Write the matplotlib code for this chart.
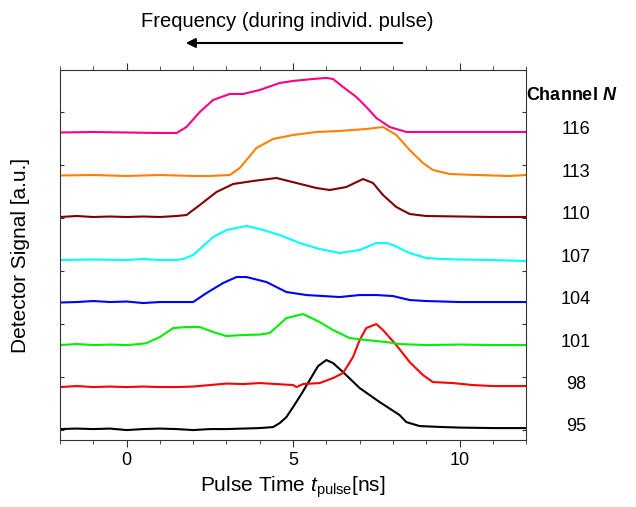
import matplotlib.pyplot as plt
import numpy as np
from matplotlib.ticker import MultipleLocator
from matplotlib.patches import FancyArrowPatch

plt.rcParams['font.family'] = ['Liberation Sans', 'DejaVu Sans']
plt.rcParams['mathtext.fontset'] = 'custom'
plt.rcParams['mathtext.rm'] = 'Liberation Sans'
plt.rcParams['mathtext.it'] = 'Liberation Sans:italic'
plt.rcParams['mathtext.bf'] = 'Liberation Sans:bold'
plt.rcParams['mathtext.bfit'] = 'Liberation Sans:italic:bold'

# pulse time [ns] and detector signal [a.u.] per channel (offset traces)
t95 = [-2, -1.5, -1, -0.5, 0, 0.5, 1, 1.5, 2, 2.5, 3, 3.5, 4, 4.4, 4.6, 4.8, 5.0, 5.25, 5.5,
       5.75, 6.0, 6.2, 6.5, 7.0, 7.6, 8.2, 8.4, 8.8, 9.5, 10, 11, 12]
s95 = [1, 1.5, 1, 1.5, 0, 1, 1.5, 1, 0, 1, 1, 1.5, 2, 3, 7, 13, 23, 36, 50,
       64, 70, 67, 58, 42, 28, 15, 8, 4, 3, 2.5, 2, 2]

t98 = [-2, -1.5, -1, -0.5, 0, 0.5, 1, 1.5, 2, 2.5, 3, 3.5, 4, 4.5, 5.0, 5.1, 5.3, 5.8, 6.2,
       6.5, 6.8, 7.0, 7.2, 7.5, 7.7, 8.1, 8.5, 8.9, 9.2, 9.8, 10.4, 11, 12]
s98 = [43, 44, 43, 43.5, 43, 43.5, 43, 43, 43.5, 45, 46.5, 46, 47, 46, 45, 43, 46, 47, 52,
       57, 73, 90, 102, 106, 100, 85, 68, 55, 48, 47, 45, 44, 44]

t101 = [-2, -1.5, -1, -0.5, 0, 0.4, 0.6, 1.0, 1.4, 1.8, 2.2, 2.6, 3.0, 3.5, 4.0, 4.3, 4.8,
        5.3, 5.8, 6.2, 6.7, 7.2, 7.8, 8.2, 9, 10, 11, 12]
s101 = [85, 86, 85, 85.5, 85, 86, 87, 93, 102, 103, 103, 98, 94, 95, 95.5, 97, 112,
        116, 108, 100, 92, 90, 88, 86, 85, 85.5, 85, 85]

t104 = [-2, -1.5, -1, -0.5, 0, 0.5, 1, 1.5, 2.0, 2.4, 2.9, 3.3, 3.6, 4.2, 4.8, 5.4, 6.4,
        7.0, 7.5, 8.0, 8.5, 9, 10, 11, 12]
s104 = [127.5, 128, 129, 128, 128.5, 127, 128, 128, 128, 137, 147, 153, 153, 148, 138, 135, 133,
        135, 135, 134, 130, 129, 128, 128, 128]

t107 = [-2, -1, 0, 0.5, 1, 1.5, 1.7, 2.0, 2.6, 3.0, 3.6, 4.0, 4.6, 5.2, 5.8, 6.4, 7.0,
        7.5, 7.8, 8.0, 8.5, 9.0, 9.5, 10, 11, 12]
s107 = [170, 170.5, 170, 171, 170, 170, 171, 175, 193, 200, 204, 201, 195, 187, 181, 177, 180,
        187, 187, 185, 177, 172, 171, 170.5, 170, 169]

t110 = [-2, -1.5, -1, -0.5, 0, 0.5, 1.0, 1.5, 1.8, 2.2, 2.7, 3.2, 3.8, 4.5, 5.1, 5.7, 6.1,
        6.6, 7.1, 7.4, 7.7, 8.1, 8.5, 9, 10, 11, 12]
s110 = [213, 214, 213, 213.5, 213, 213.5, 213, 214, 215, 225, 238, 246, 249, 252, 247, 242, 240,
        243, 251, 247, 235, 223, 216, 214, 213.5, 213, 213]

t113 = [-2, -1, 0, 1, 2, 2.5, 3.1, 3.4, 3.9, 4.4, 5.0, 5.7, 6.4, 7.2, 7.7, 8.1, 8.5, 8.9,
        9.2, 9.7, 10.5, 11.5, 12]
s113 = [254.5, 255, 254, 255, 254, 254, 255, 262, 282, 291, 295, 298, 299, 301, 303, 295, 280, 267,
        260, 256, 255, 254, 255]

t116 = [-2, -1, 0, 1, 1.5, 1.8, 2.2, 2.6, 3.1, 3.5, 4.0, 4.6, 5.0, 5.6, 6.0, 6.2, 6.5, 6.9,
        7.2, 7.5, 7.9, 8.4, 9, 10, 11, 12]
s116 = [297.5, 298, 297.5, 297, 297, 303, 318, 330, 336, 336, 340, 347, 349, 351, 352, 351, 343, 333,
        323, 312, 303, 298, 298, 298, 298, 298]

channels = [95, 98, 101, 104, 107, 110, 113, 116]
times = [t95, t98, t101, t104, t107, t110, t113, t116]
signals = [s95, s98, s101, s104, s107, s110, s113, s116]
colors = ['black', '#ff0000', '#00ee00', '#0000ff', '#00ffff', '#800000', '#ff8000', '#ff0080']

fig = plt.figure(figsize=(6.36, 5.07), dpi=100)
ax = fig.add_axes([0.0943, 0.132, 0.733, 0.730])

for t, s, c in zip(times, signals, colors):
    ax.plot(t, s, color=c, lw=1.5)

ax.set_xlim(-2, 12)
ax.set_ylim(-10, 360)
ax.xaxis.set_major_locator(MultipleLocator(5))
ax.xaxis.set_minor_locator(MultipleLocator(1))
ax.set_yticks(np.arange(0, 360, 53))
ax.set_yticklabels([])
ax.tick_params(axis='x', which='both', direction='out', top=True, labelsize=13, color='#333333')
ax.tick_params(axis='x', which='major', length=5)
ax.tick_params(axis='x', which='minor', length=3)
ax.tick_params(axis='y', direction='in', left=True, right=True, length=3, color='#333333')
for sp in ax.spines.values():
    sp.set_color('#333333')

ax.set_xlabel(r'Pulse Time $t_{\rm pulse}$[ns]', fontsize=15, labelpad=4)
ax.set_ylabel('Detector Signal [a.u.]', fontsize=15, labelpad=18)

# channel labels on the right
ax.text(1.0, 0.932, r'Channel $\boldsymbol{N}$', transform=ax.transAxes, fontsize=13,
        fontweight='bold', ha='left', va='center')
for ch, s in zip(channels, signals):
    ax.text(13.5, s[0] + 3, str(ch), fontsize=13, ha='center', va='center', clip_on=False)

# frequency arrow above
fig.text(0.452, 0.957, 'Frequency (during individ. pulse)', fontsize=14.5, ha='center', va='center')
fig.patches.append(FancyArrowPatch(
    (405 / 636, 1 - 43 / 507), (183 / 636, 1 - 43 / 507), transform=fig.transFigure,
    arrowstyle='-|>', mutation_scale=14, lw=1.5, color='black'))

fig.savefig('out.png', dpi=100)
